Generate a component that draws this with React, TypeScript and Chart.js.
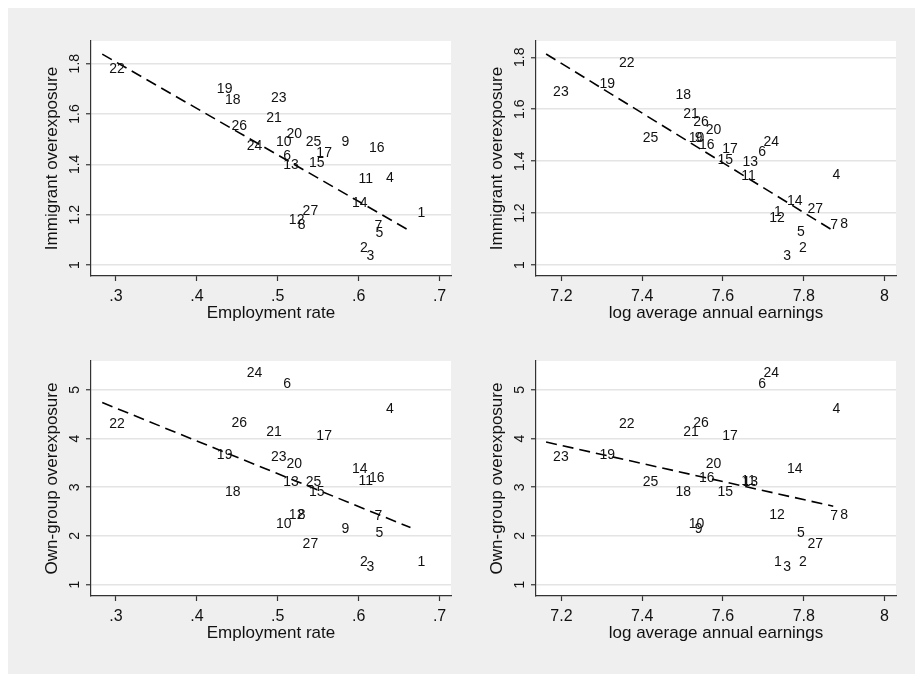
import React, { useEffect, useRef } from 'react';
import { Chart, registerables } from 'chart.js';

Chart.register(...registerables);

// ---------- data (27 groups) ----------
const groupIds = ['1', '2', '3', '4', '5', '6', '7', '8', '9', '10', '11', '12', '13', '14', '15', '16', '17', '18', '19', '20', '21', '22', '23', '24', '25', '26', '27'];

const employmentRate = [0.664, 0.593, 0.601, 0.625, 0.612, 0.498, 0.611, 0.516, 0.570, 0.489, 0.591, 0.505, 0.498, 0.583, 0.530, 0.604, 0.539, 0.426, 0.416, 0.502, 0.477, 0.283, 0.483, 0.453, 0.526, 0.434, 0.522];

const logEarnings = [7.709, 7.771, 7.732, 7.854, 7.766, 7.670, 7.848, 7.873, 7.513, 7.498, 7.628, 7.697, 7.631, 7.741, 7.569, 7.523, 7.581, 7.465, 7.277, 7.540, 7.484, 7.325, 7.162, 7.683, 7.384, 7.509, 7.792];

const immigrantOverexposure = [1.205, 1.066, 1.036, 1.346, 1.126, 1.434, 1.155, 1.159, 1.487, 1.487, 1.341, 1.179, 1.397, 1.247, 1.404, 1.463, 1.446, 1.655, 1.697, 1.519, 1.582, 1.777, 1.664, 1.473, 1.489, 1.552, 1.215];

const ownGroupOverexposure = [1.457, 1.455, 1.355, 4.607, 2.066, 5.105, 2.414, 2.428, 2.141, 2.243, 3.125, 2.428, 3.097, 3.371, 2.906, 3.178, 4.053, 2.906, 3.657, 3.473, 4.129, 4.293, 3.609, 5.344, 3.097, 4.320, 1.834];

// ---------- ticks ----------
const employmentTicks = [0.3, 0.4, 0.5, 0.6, 0.7];
const employmentTickLabels = ['.3', '.4', '.5', '.6', '.7'];
const earningsTicks = [7.2, 7.4, 7.6, 7.8, 8];
const earningsTickLabels = ['7.2', '7.4', '7.6', '7.8', '8'];
const immigrantTicks = [1, 1.2, 1.4, 1.6, 1.8];
const immigrantTickLabels = ['1', '1.2', '1.4', '1.6', '1.8'];
const ownTicks = [1, 2, 3, 4, 5];
const ownTickLabels = ['1', '2', '3', '4', '5'];

// ---------- style / layout ----------
const FONT = '"Liberation Sans", Arial, Helvetica, sans-serif';
const TEXT = '#111111';
const AXIS = '#333333';
const GRID = '#e4e4e4';
const CANVAS_W = 445;
const CANVAS_H = 318;
const Y_AXIS_W = 80;
const TOP_PAD = 30;
const PLOT_H = 235;

function fitLine(xs: number[], ys: number[]) {
  const n = xs.length;
  const mx = xs.reduce((a, b) => a + b, 0) / n;
  const my = ys.reduce((a, b) => a + b, 0) / n;
  let sxy = 0;
  let sxx = 0;
  for (let i = 0; i < n; i++) {
    sxy += (xs[i] - mx) * (ys[i] - my);
    sxx += (xs[i] - mx) * (xs[i] - mx);
  }
  const b = sxy / sxx;
  const a = my - b * mx;
  const lo = Math.min(...xs);
  const hi = Math.max(...xs);
  return [
    { x: lo, y: a + b * lo },
    { x: hi, y: a + b * hi },
  ];
}

function measure(text: string, font: string) {
  const c = document.createElement('canvas').getContext('2d') as CanvasRenderingContext2D;
  c.font = font;
  return c.measureText(text).width;
}

const plotBg = {
  id: 'plotBg',
  beforeDraw(chart: any) {
    const { ctx, chartArea } = chart;
    ctx.save();
    ctx.fillStyle = '#ffffff';
    ctx.fillRect(chartArea.left, chartArea.top, chartArea.right - chartArea.left, chartArea.bottom - chartArea.top);
    ctx.restore();
  },
};

const markerLabels = {
  id: 'markerLabels',
  afterDatasetsDraw(chart: any) {
    const { ctx } = chart;
    const meta = chart.getDatasetMeta(0);
    ctx.save();
    ctx.font = `14px ${FONT}`;
    ctx.fillStyle = TEXT;
    ctx.textAlign = 'left';
    ctx.textBaseline = 'middle';
    meta.data.forEach((el: any, i: number) => {
      ctx.fillText(groupIds[i], el.x + 7, el.y);
    });
    ctx.restore();
  },
};

type PanelProps = {
  xs: number[];
  ys: number[];
  xTicks: number[];
  xTickLabels: string[];
  yTicks: number[];
  yTickLabels: string[];
  xMin: number;
  xMax: number;
  yMin: number;
  yMax: number;
  xTitle: string;
  yTitle: string;
  left: number;
  top: number;
};

function Panel(p: PanelProps) {
  const ref = useRef<HTMLCanvasElement | null>(null);

  useEffect(() => {
    if (!ref.current) return;
    const yTickFont = `14px ${FONT}`;
    const widest = Math.max(...p.yTickLabels.map((t) => measure(t, yTickFont)));
    const yTickPad = Math.max(0, 10.7 - widest / 2);

    const points = p.xs.map((x, i) => ({ x, y: p.ys[i] }));
    const chart = new Chart(ref.current, {
      type: 'scatter',
      data: {
        datasets: [
          {
            data: points,
            pointRadius: 0,
            pointHoverRadius: 0,
            showLine: false,
          },
          {
            data: fitLine(p.xs, p.ys),
            showLine: true,
            borderColor: '#000000',
            borderWidth: 1.6,
            borderDash: [11, 6],
            borderCapStyle: 'butt',
            pointRadius: 0,
            pointHoverRadius: 0,
            fill: false,
          },
        ],
      } as any,
      options: {
        animation: false,
        responsive: false,
        maintainAspectRatio: false,
        events: [],
        layout: { padding: { left: 0, top: TOP_PAD, right: CANVAS_W - Y_AXIS_W - 360, bottom: 0 } },
        plugins: {
          legend: { display: false },
          tooltip: { enabled: false },
          title: { display: false },
        },
        scales: {
          x: {
            type: 'linear',
            position: 'bottom',
            min: p.xMin,
            max: p.xMax,
            afterBuildTicks: (s: any) => {
              s.ticks = p.xTicks.map((v) => ({ value: v }));
            },
            afterFit: (s: any) => {
              s.height = CANVAS_H - TOP_PAD - PLOT_H;
            },
            grid: {
              drawOnChartArea: false,
              drawTicks: true,
              tickLength: 5,
              tickColor: AXIS,
              tickWidth: 1.2,
              color: AXIS,
            },
            border: { display: true, color: AXIS, width: 1.2 },
            ticks: {
              autoSkip: false,
              maxRotation: 0,
              minRotation: 0,
              padding: 6,
              color: TEXT,
              font: { family: FONT, size: 16 },
              callback: (_v: any, i: number) => p.xTickLabels[i],
            },
            title: {
              display: true,
              text: p.xTitle,
              color: TEXT,
              font: { family: FONT, size: 17 },
              padding: { top: 0, bottom: 5 },
            },
          },
          y: {
            type: 'linear',
            position: 'left',
            min: p.yMin,
            max: p.yMax,
            afterBuildTicks: (s: any) => {
              s.ticks = p.yTicks.map((v) => ({ value: v }));
            },
            afterFit: (s: any) => {
              s.width = Y_AXIS_W;
            },
            grid: {
              drawOnChartArea: true,
              drawTicks: true,
              tickLength: 5,
              tickColor: AXIS,
              tickWidth: 1.2,
              color: GRID,
              lineWidth: 1.5,
            },
            border: { display: true, color: AXIS, width: 1.2 },
            ticks: {
              autoSkip: false,
              minRotation: 90,
              maxRotation: 90,
              crossAlign: 'center',
              padding: yTickPad,
              color: TEXT,
              font: { family: FONT, size: 14 },
              callback: (_v: any, i: number) => p.yTickLabels[i],
            },
            title: {
              display: true,
              text: p.yTitle,
              color: TEXT,
              font: { family: FONT, size: 17 },
              padding: { top: 31.5, bottom: 0 },
            },
          },
        },
      } as any,
      plugins: [plotBg, markerLabels],
    });
    return () => chart.destroy();
  }, []);

  return (
    <canvas
      ref={ref}
      width={CANVAS_W}
      height={CANVAS_H}
      style={{ position: 'absolute', left: p.left, top: p.top, width: CANVAS_W, height: CANVAS_H }}
    />
  );
}

export default function App() {
  return (
    <div
      style={{
        position: 'absolute',
        left: 8,
        top: 8,
        width: 907,
        height: 666,
        background: '#efefef',
        overflow: 'hidden',
      }}
    >
      <Panel
        xs={employmentRate}
        ys={immigrantOverexposure}
        xTicks={employmentTicks}
        xTickLabels={employmentTickLabels}
        yTicks={immigrantTicks}
        yTickLabels={immigrantTickLabels}
        xMin={0.2691}
        xMax={0.7141}
        yMin={0.9563}
        yMax={1.89}
        xTitle="Employment rate"
        yTitle="Immigrant overexposure"
        left={3}
        top={3}
      />
      <Panel
        xs={logEarnings}
        ys={immigrantOverexposure}
        xTicks={earningsTicks}
        xTickLabels={earningsTickLabels}
        yTicks={immigrantTicks}
        yTickLabels={immigrantTickLabels}
        xMin={7.137}
        xMax={8.0284}
        yMin={0.9577}
        yMax={1.8627}
        xTitle="log average annual earnings"
        yTitle="Immigrant overexposure"
        left={448}
        top={3}
      />
      <Panel
        xs={employmentRate}
        ys={ownGroupOverexposure}
        xTicks={employmentTicks}
        xTickLabels={employmentTickLabels}
        yTicks={ownTicks}
        yTickLabels={ownTickLabels}
        xMin={0.2691}
        xMax={0.7141}
        yMin={0.7684}
        yMax={5.59}
        xTitle="Employment rate"
        yTitle="Own-group overexposure"
        left={3}
        top={323}
      />
      <Panel
        xs={logEarnings}
        ys={ownGroupOverexposure}
        xTicks={earningsTicks}
        xTickLabels={earningsTickLabels}
        yTicks={ownTicks}
        yTickLabels={ownTickLabels}
        xMin={7.137}
        xMax={8.0284}
        yMin={0.7684}
        yMax={5.59}
        xTitle="log average annual earnings"
        yTitle="Own-group overexposure"
        left={448}
        top={323}
      />
    </div>
  );
}
